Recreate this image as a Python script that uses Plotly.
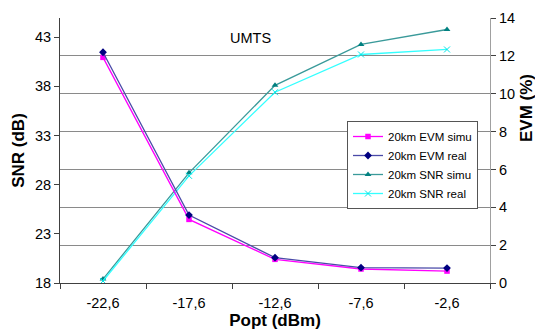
import plotly.graph_objects as go

categories = ["-22,6", "-17,6", "-12,6", "-7,6", "-2,6"]
evm_simu = [11.92, 3.36, 1.25, 0.74, 0.63]
evm_real = [12.19, 3.59, 1.34, 0.81, 0.79]
snr_simu = [18.4, 29.2, 38.1, 42.26, 43.78]
snr_real = [18.2, 28.9, 37.4, 41.24, 41.75]

FONT = "Liberation Sans, Arial, sans-serif"

fig = go.Figure()
fig.add_trace(go.Scatter(x=categories, y=evm_simu, name="20km EVM simu", yaxis="y2",
                         mode="lines+markers", line=dict(color="#FF00FF", width=1.3),
                         marker=dict(symbol="square", size=5.5, color="#FF00FF")))
fig.add_trace(go.Scatter(x=categories, y=evm_real, name="20km EVM real", yaxis="y2",
                         mode="lines+markers", line=dict(color="#4A4AA8", width=1.3),
                         marker=dict(symbol="diamond", size=6, color="#000080")))
fig.add_trace(go.Scatter(x=categories, y=snr_simu, name="20km SNR simu", yaxis="y",
                         mode="lines+markers", line=dict(color="#3A9A9A", width=1.3),
                         marker=dict(symbol="triangle-up", size=6, color="#008080")))
fig.add_trace(go.Scatter(x=categories, y=snr_real, name="20km SNR real", yaxis="y",
                         mode="lines+markers", line=dict(color="#33FFFF", width=1.3),
                         marker=dict(symbol="x-thin-open", size=6, color="#00E5E5",
                                     line=dict(width=1, color="#00E5E5"))))

L, R, T, B = 60, 45, 18, 49
pw, ph = 535 - L - R, 332 - T - B

def px(x):
    return (x - L) / pw

def py(y):
    return (332 - B - y) / ph

fig.update_layout(
    width=535, height=332,
    margin=dict(l=L, r=R, t=T, b=B, autoexpand=False),
    paper_bgcolor="white", plot_bgcolor="white",
    font=dict(family=FONT, color="black"),
    showlegend=True,
    legend=dict(x=px(347), y=py(121), xanchor="left", yanchor="top",
                bgcolor="white", bordercolor="#555555", borderwidth=1,
                font=dict(size=11.5, family=FONT), tracegroupgap=0,
                itemwidth=30),
    xaxis=dict(type="category", categoryorder="array", categoryarray=categories,
               tickson="boundaries", ticks="outside", ticklen=5, tickcolor="#404040",
               showline=True, linecolor="#404040", linewidth=1, showgrid=False,
               tickfont=dict(size=14.5), range=[-0.5, 4.5], automargin=False,
               ticklabelstandoff=7,
               title=dict(text="<b>Popt (dBm)</b>", font=dict(size=17), standoff=2)),
    yaxis=dict(range=[18, 44.95], tick0=18, dtick=5, ticks="outside", ticklen=5,
               tickcolor="#404040", showline=True, linecolor="#404040", linewidth=1,
               showgrid=False, zeroline=False, tickfont=dict(size=14.5), automargin=False,
               title=dict(text="<b>SNR (dB)</b>", font=dict(size=17), standoff=6)),
    yaxis2=dict(range=[0, 14], dtick=2, overlaying="y", side="right",
                ticks="outside", ticklen=5, tickcolor="#404040",
                showline=True, linecolor="#A0A0A0", linewidth=1, automargin=False,
                showgrid=True, gridcolor="#8A8A8A", gridwidth=1, zeroline=False,
                tickfont=dict(size=14.5)),
    annotations=[
        dict(text="UMTS", x=px(250), y=py(38), xref="paper", yref="paper",
             xanchor="center", yanchor="middle",
             showarrow=False, font=dict(size=14.5)),
        dict(text="<b>EVM (%)</b>", x=px(526), y=py(108), xref="paper", yref="paper",
             xanchor="center", yanchor="middle",
             showarrow=False, textangle=-90, font=dict(size=17)),
    ],
)

fig.write_html("out.html", config={"displayModeBar": False},
               post_script="document.body.style.margin='0';document.body.style.overflow='hidden';")
